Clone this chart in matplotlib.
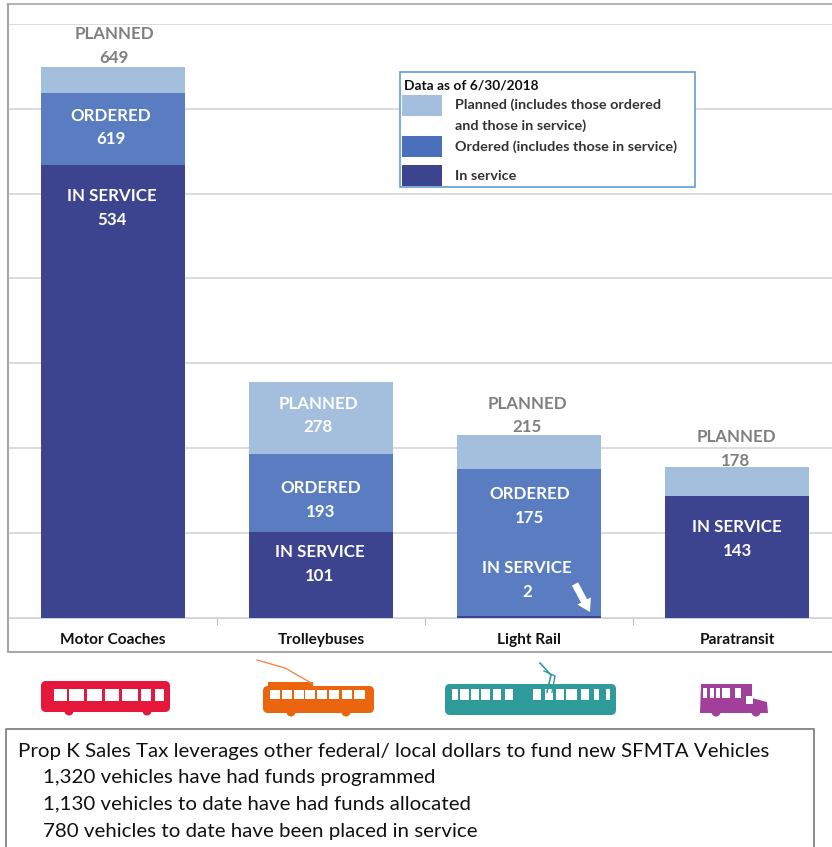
import matplotlib
matplotlib.use("Agg")
import matplotlib.pyplot as plt
from matplotlib.patches import Rectangle, FancyBboxPatch, Circle, Polygon

plt.rcParams['font.family'] = ['Lato', 'DejaVu Sans']

# data (values are cumulative, so the bars overlap from zero)
categories = ["Motor Coaches", "Trolleybuses", "Light Rail", "Paratransit"]
planned = [649, 278, 215, 178]
ordered = [619, 193, 175, 143]
in_service = [534, 101, 2, 143]
y_ticks = [0, 100, 200, 300, 400, 500, 600, 700]
notes = ["1,320 vehicles have had funds programmed",
         "1,130 vehicles to date have had funds allocated",
         "780 vehicles to date have been placed in service"]

C_PLANNED = "#a3bfdd"
C_ORDERED = "#5a7dc2"
C_SERVICE = "#3c4490"
GRID = "#d2d2d2"
W, H = 832, 847

fig = plt.figure(figsize=(W / 100, H / 100), dpi=100)

# main chart, baseline at y=617.5 and 700 at y=24
ax = fig.add_axes([9 / W, 1 - 617.5 / H, 832 / W, (617.5 - 24) / H])
ax.set_xlim(-0.5, 3.5)
ax.set_ylim(0, 700)
x = range(len(categories))
bw = 0.69
ax.bar(x, planned, bw, color=C_PLANNED, zorder=3)
ax.bar(x, ordered, bw, color=C_ORDERED, zorder=4)
ax.bar(x, in_service, bw, color=C_SERVICE, zorder=5)
ax.set_yticks(y_ticks)
ax.yaxis.grid(True, color=GRID, lw=1.1)
ax.set_axisbelow(True)
ax.tick_params(axis='y', length=0, labelleft=False)
ax.set_xticks([0.5, 1.5, 2.5])
ax.tick_params(axis='x', length=5, color="#bbbbbb", labelbottom=False)
for s in ax.spines.values():
    s.set_visible(False)
ax.spines['bottom'].set_visible(True)
ax.spines['bottom'].set_color(GRID)

# overlay in reference pixels for labels, frame, legend and icons
ov = fig.add_axes([0, 0, 1, 1], zorder=10)
ov.set_xlim(0, W)
ov.set_ylim(H, 0)
ov.axis('off')


def label(px, py, s, color="white", size=12.2, weight='bold'):
    ov.text(px, py + 1, s, color=color, fontsize=size, fontweight=weight, ha='center', va='center')


GREY = "#7f7f7f"
label(114, 33, "PLANNED", GREY)
label(114, 57, str(planned[0]), GREY)
label(111, 115, "ORDERED")
label(111, 138, str(ordered[0]))
label(112, 195, "IN SERVICE")
label(112, 219, str(in_service[0]))
label(318, 403, "PLANNED")
label(318, 426, str(planned[1]))
label(321, 487, "ORDERED")
label(321, 511, str(ordered[1]))
label(320, 551, "IN SERVICE")
label(320, 575, str(in_service[1]))
label(527, 403, "PLANNED", GREY)
label(527, 426, str(planned[2]), GREY)
label(530, 493, "ORDERED")
label(530, 517, str(ordered[2]))
label(527, 567, "IN SERVICE")
label(527, 591, str(in_service[2]))
label(736, 436, "PLANNED", GREY)
label(736, 460, str(planned[3]), GREY)
label(737, 526, "IN SERVICE")
label(737, 550, str(in_service[3]))

# little white arrow on the light rail bar
ov.annotate("", xy=(590, 612), xytext=(575, 584),
            arrowprops=dict(facecolor="white", edgecolor="white", width=5, headwidth=11, headlength=9, lw=0,
                            shrink=0))

# category names
for cx, name in zip([113, 321, 529, 737], categories):
    label(cx, 639, name, color="#111111", size=11.1)

# chart frame
ov.plot([8, 832], [4, 4], color="#b5b5b5", lw=1.5)
ov.plot([8, 8, 832], [4, 652, 652], color="#a8a8a8", lw=1.5)

# legend
ov.add_patch(Rectangle((400, 72), 295, 115, fc="white", ec="#649bd6", lw=1.2))
ov.add_patch(Rectangle((402, 95), 40, 21, fc=C_PLANNED, ec="none"))
ov.add_patch(Rectangle((402, 136), 40, 21, fc="#4a70bb", ec="none"))
ov.add_patch(Rectangle((402, 165), 40, 21, fc=C_SERVICE, ec="none"))
ov.text(404, 86, "Data as of 6/30/2018", fontsize=9.9, fontweight='bold', color="#111111", va='center')
for py, s in zip([105, 126, 147, 176],
                 ["Planned (includes those ordered", "and those in service)",
                  "Ordered (includes those in service)", "In service"]):
    ov.text(455, py, s, fontsize=10.4, fontweight='bold', color="#333333", va='center')


# vehicle icons
def vehicle(x0, x1, y0, y1, color, windows, wheels, win_y, win_h):
    ov.add_patch(FancyBboxPatch((x0 + 3, y0 + 3), x1 - x0 - 6, y1 - y0 - 6,
                                boxstyle="round,pad=3,rounding_size=5", fc=color, ec="none"))
    for wx, ww in windows:
        ov.add_patch(Rectangle((wx, win_y), ww, win_h, fc="white", ec="none"))
    for wx in wheels:
        ov.add_patch(Circle((wx, y1 - 1), 4.5, fc=color, ec="none"))


vehicle(41, 170, 681, 712, "#e5173a",
        [(54, 13), (69, 15), (87, 15), (105, 14), (122, 16), (141, 10), (155, 9)], [69, 147], 689, 12)
vehicle(263, 374, 686, 713, "#ea650d",
        [(270, 10), (282, 10), (294, 10), (305, 10), (317, 10), (329, 10), (342, 10), (354, 11)], [291, 346], 690, 9)
ov.add_patch(Rectangle((268, 682), 45, 6, fc="#ea650d", ec="none"))
ov.plot([257, 285, 313], [660, 668, 684], color="#ea8a50", lw=1)
vehicle(445, 616, 684, 715, "#2f9a9a",
        [(452, 6), (460, 9), (471, 8), (481, 9), (493, 8), (505, 8), (533, 8), (545, 8), (556, 8), (566, 11), (581, 8),
         (594, 5), (606, 4)], [], 689, 11)
ov.plot([540, 551, 547], [663, 675, 692], color="#2f9a9a", lw=1.2)
ov.plot([544, 555, 552], [671, 676, 692], color="#2f9a9a", lw=1)
ov.add_patch(Polygon([(701, 684), (752, 684), (752, 698), (767, 702), (768, 713), (700, 713)], fc="#a0409a", ec="none"))
for wx, ww in [(703, 4), (710, 4), (716, 4), (722, 8), (735, 6)]:
    ov.add_patch(Rectangle((wx, 688), ww, 10, fc="white", ec="none"))
ov.add_patch(Rectangle((746, 696), 7, 8, fc="white", ec="none"))
for wx in [716, 756]:
    ov.add_patch(Circle((wx, 712), 4.5, fc="#a0409a", ec="none"))

# bottom text box
ov.plot([6, 6, 814, 814], [H + 5, 729, 729, H + 5], color="#8c8c8c", lw=1.4)
ov.text(18, 751, "Prop K Sales Tax leverages other federal/ local dollars to fund new SFMTA Vehicles",
        fontsize=14.75, color="#111111", va='center')
for py, s in zip([777, 804, 832], notes):
    ov.text(43, py, s, fontsize=14.75, color="#111111", va='center')

fig.savefig("out.png", dpi=100)
